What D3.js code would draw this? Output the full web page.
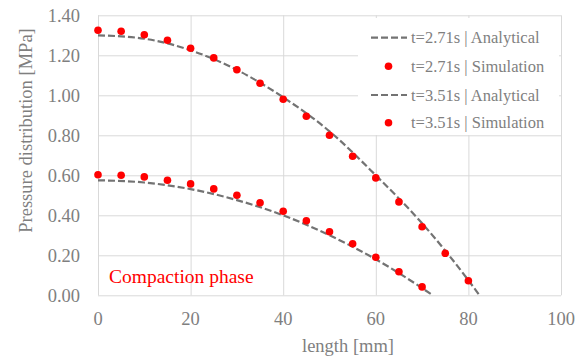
<!DOCTYPE html>
<html lang="en">
<head>
<meta charset="UTF-8">
<title>Pressure distribution</title>
<style>
body { margin: 0; background: #fff; }
text { font-family: "Liberation Serif", "Times New Roman", serif; }
.grid line { stroke: #d9d9d9; stroke-width: 1; }
.grid path { display: none; }
.tick-label { fill: #7f7f7f; font-size: 18.5px; }
.title { fill: #7f7f7f; font-size: 18.5px; }
.legend text { fill: #7f7f7f; font-size: 16.5px; }
.analytical { fill: none; stroke: #737373; stroke-width: 2.2; stroke-dasharray: 7,3; }
.sim { fill: #ff0000; }
</style>
</head>
<body>
<script src="https://d3js.org/d3.v7.min.js"></script>
<script>
// ticks
var xTicks = [0, 20, 40, 60, 80, 100];
var yTicks = [0, 0.2, 0.4, 0.6, 0.8, 1.0, 1.2, 1.4];

// t=2.71s
var sim1X = [0, 5, 10, 15, 20, 25, 30, 35, 40, 45, 50, 55, 60, 65, 70, 75, 80];
var sim1Y = [1.325, 1.32, 1.303, 1.275, 1.235, 1.187, 1.128, 1.06, 0.98, 0.895, 0.80, 0.695, 0.587, 0.467, 0.343, 0.21, 0.073];
var ana1X = [0, 10, 20, 30, 40, 50, 60, 70, 80, 82.4];
var ana1Y = [1.30, 1.283, 1.225, 1.127, 0.99, 0.82, 0.60, 0.36, 0.075, 0];

// t=3.51s
var sim2X = [0, 5, 10, 15, 20, 25, 30, 35, 40, 45, 50, 55, 60, 65, 70];
var sim2Y = [0.603, 0.60, 0.592, 0.575, 0.557, 0.532, 0.50, 0.463, 0.42, 0.373, 0.318, 0.258, 0.19, 0.118, 0.042];
var ana2X = [0, 10, 20, 30, 40, 50, 60, 70, 72.3];
var ana2Y = [0.575, 0.564, 0.531, 0.476, 0.40, 0.30, 0.18, 0.036, 0];

var legendLabels = ["t=2.71s | Analytical", "t=2.71s | Simulation", "t=3.51s | Analytical", "t=3.51s | Simulation"];

var width = 588, height = 357;
var plotL = 98, plotR = 561, plotT = 15.3, plotB = 295.3;

var svg = d3.select("body").append("svg")
    .attr("width", width)
    .attr("height", height);

var x = d3.scaleLinear().domain([0, 100]).range([plotL, plotR]);
var y = d3.scaleLinear().domain([0, 1.4]).range([plotB, plotT]);

// gridlines
svg.append("g")
    .attr("class", "grid")
    .attr("transform", "translate(0," + plotB + ")")
    .call(d3.axisBottom(x).tickValues(xTicks).tickSize(-(plotB - plotT)).tickFormat(""));
svg.append("g")
    .attr("class", "grid")
    .attr("transform", "translate(" + plotL + ",0)")
    .call(d3.axisLeft(y).tickValues(yTicks).tickSize(-(plotR - plotL)).tickFormat(""));

// tick labels
svg.append("g").selectAll("text")
    .data(xTicks)
  .enter().append("text")
    .attr("class", "tick-label")
    .attr("x", function(d) { return x(d); })
    .attr("y", 325)
    .attr("text-anchor", "middle")
    .text(function(d) { return d; });

svg.append("g").selectAll("text")
    .data(yTicks)
  .enter().append("text")
    .attr("class", "tick-label")
    .attr("x", 80)
    .attr("y", function(d) { return y(d) + 6.3; })
    .attr("text-anchor", "end")
    .text(function(d) { return d3.format(".2f")(d); });

// axis titles
svg.append("text")
    .attr("class", "title")
    .attr("x", 348)
    .attr("y", 352)
    .attr("text-anchor", "middle")
    .text("length [mm]");

svg.append("text")
    .attr("class", "title")
    .attr("transform", "translate(32,130.5)rotate(-90)")
    .attr("text-anchor", "middle")
    .text("Pressure distribution [MPa]");

// curves
var line = d3.line()
    .x(function(d) { return x(d[0]); })
    .y(function(d) { return y(d[1]); })
    .curve(d3.curveMonotoneX);

function zip(a, b) { return a.map(function(v, i) { return [v, b[i]]; }); }

var series = [
  { ana: zip(ana1X, ana1Y), sim: zip(sim1X, sim1Y) },
  { ana: zip(ana2X, ana2Y), sim: zip(sim2X, sim2Y) }
];

series.forEach(function(s) {
  svg.append("path")
      .datum(s.ana)
      .attr("class", "analytical")
      .attr("d", line);
});

series.forEach(function(s) {
  svg.append("g").selectAll("circle")
      .data(s.sim)
    .enter().append("circle")
      .attr("class", "sim")
      .attr("cx", function(d) { return x(d[0]); })
      .attr("cy", function(d) { return y(d[1]); })
      .attr("r", 3.8);
});

// annotation
svg.append("text")
    .attr("x", 109)
    .attr("y", 283)
    .attr("fill", "#ff0000")
    .style("font-size", "19.5px")
    .text("Compaction phase");

// legend
var legend = svg.append("g").attr("class", "legend");
legend.append("rect")
    .attr("x", 358).attr("y", 18)
    .attr("width", 201).attr("height", 117)
    .attr("fill", "#fff");

var rowY = [37.7, 66.3, 95, 122.7];
legendLabels.forEach(function(lab, i) {
  var g = legend.append("g").attr("transform", "translate(0," + rowY[i] + ")");
  if (i % 2 === 0) {
    g.append("line")
        .attr("class", "analytical")
        .attr("x1", 371).attr("x2", 407)
        .attr("y1", 0).attr("y2", 0);
  } else {
    g.append("circle")
        .attr("class", "sim")
        .attr("cx", 388.5).attr("cy", 0).attr("r", 3.8);
  }
  g.append("text")
      .attr("x", 411)
      .attr("y", 5.5)
      .text(lab);
});
</script>
</body>
</html>
